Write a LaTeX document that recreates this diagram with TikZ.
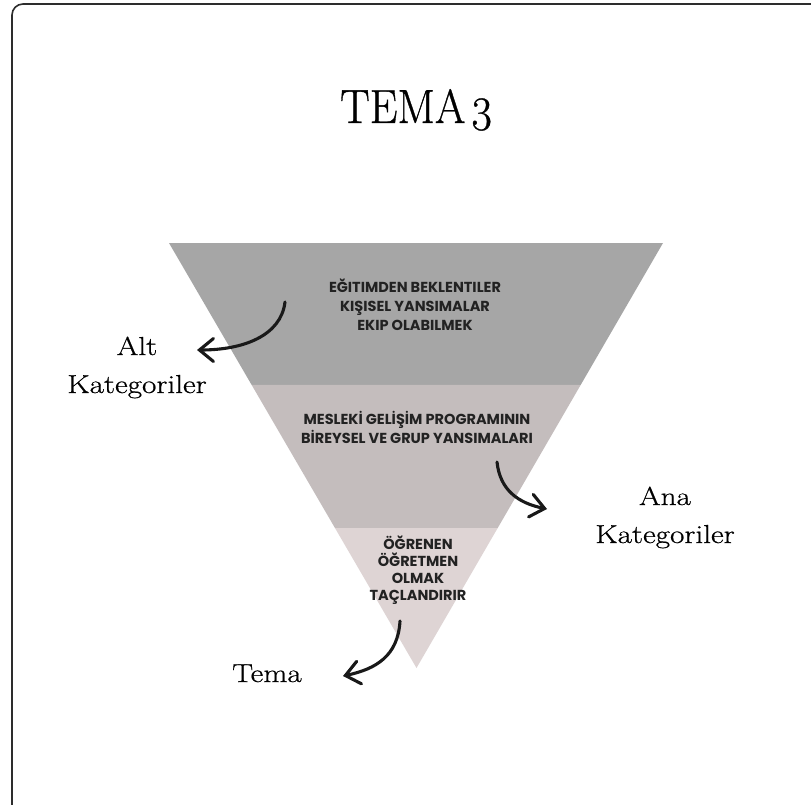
\documentclass[tikz,border=0pt]{standalone}
\usepackage{fontspec}
\usetikzlibrary{calc,arrows.meta}
\newfontfamily\popfont{Poppins}
\newfontfamily\labelfont{Latin Modern Roman}[FakeStretch=1.2,FakeBold=0.6]
\newfontfamily\titlefont{Latin Modern Roman}[FakeStretch=0.92,FakeBold=0.7]
\definecolor{bandtop}{RGB}{166,166,166}
\definecolor{bandmid}{RGB}{196,189,189}
\definecolor{bandlow}{RGB}{222,212,212}
\definecolor{inktext}{RGB}{34,34,34}
\definecolor{framecol}{RGB}{45,45,45}
\tikzset{
  bandtext/.style={align=center, font=\popfont\bfseries\fontsize{14.5}{19}\selectfont, text=inktext, inner sep=0pt},
  sidelabel/.style={align=center, font=\labelfont\fontsize{26}{38}\selectfont, inner sep=0pt},
  handarrow/.style={line width=3.1pt, line cap=round, draw=black!90,
    -{Straight Barb[length=14pt,width=23pt,line cap=round]}},
}
\begin{document}
\begin{tikzpicture}[x=1pt,y=-1pt]
  \useasboundingbox (0,0) rectangle (811,805);
  \fill[white] (0,0) rectangle (811,805);
  \clip (0,0) rectangle (811,805);
  % outer frame, running past the right and bottom edges
  \draw[framecol, line width=1.6pt, rounded corners=11pt] (12,4) rectangle (840,830);

  % inverted triangle split into three bands
  \coordinate (tl) at (169,243);
  \coordinate (tr) at (663,243);
  \coordinate (ap) at (416.5,668);
  \coordinate (l1) at ($(tl)!0.334!(ap)$);
  \coordinate (r1) at ($(tr)!0.334!(ap)$);
  \coordinate (l2) at ($(tl)!0.671!(ap)$);
  \coordinate (r2) at ($(tr)!0.671!(ap)$);
  \fill[bandtop] (tl) -- (tr) -- (r1) -- (l1) -- cycle;
  \fill[bandmid] (l1) -- (r1) -- (r2) -- (l2) -- cycle;
  \fill[bandlow] (l2) -- (r2) -- (ap) -- cycle;

  % title
  \node[inner sep=0pt, anchor=base] (title) at (416,123)
    {\titlefont\fontsize{48}{48}\selectfont TEMA\kern6pt\raisebox{-7pt}{3}};

  % band texts (base anchor sits on the last line)
  \node[bandtext, anchor=base] (sub) at (415,330)
    {EĞITIMDEN BEKLENTILER\\KIŞISEL YANSIMALAR\\EKIP OLABILMEK};
  \node[bandtext, anchor=base] (main) at (417,443)
    {MESLEKİ GELİŞİM PROGRAMININ\\BİREYSEL VE GRUP YANSIMALARI};
  \node[bandtext, anchor=base, font=\popfont\bfseries\fontsize{14.5}{16.7}\selectfont] (theme) at (418,600)
    {ÖĞRENEN\\ÖĞRETMEN\\OLMAK\\TAÇLANDIRIR};

  % side labels
  \node[sidelabel, anchor=base] (altk) at (137,393) {Alt\\Kategoriler};
  \node[sidelabel, anchor=base] (anak) at (665,543) {Ana\\Kategoriler};
  \node[sidelabel, anchor=base] (tema) at (267,682) {Tema};

  % hand-drawn pointers
  \coordinate (a1s) at (285,302);
  \coordinate (a1e) at (197,350);
  \coordinate (a2s) at (497,462);
  \coordinate (a2e) at (547,509);
  \coordinate (a3s) at (400,621);
  \coordinate (a3e) at (343,676);
  \draw[handarrow] (a1s) .. controls (281,336) and (243,350) .. (a1e);
  \draw[handarrow] (a2s) .. controls (500,490) and (518,503) .. (a2e);
  \draw[handarrow] (a3s) .. controls (398,656) and (376,669) .. (a3e);
\end{tikzpicture}
\end{document}
